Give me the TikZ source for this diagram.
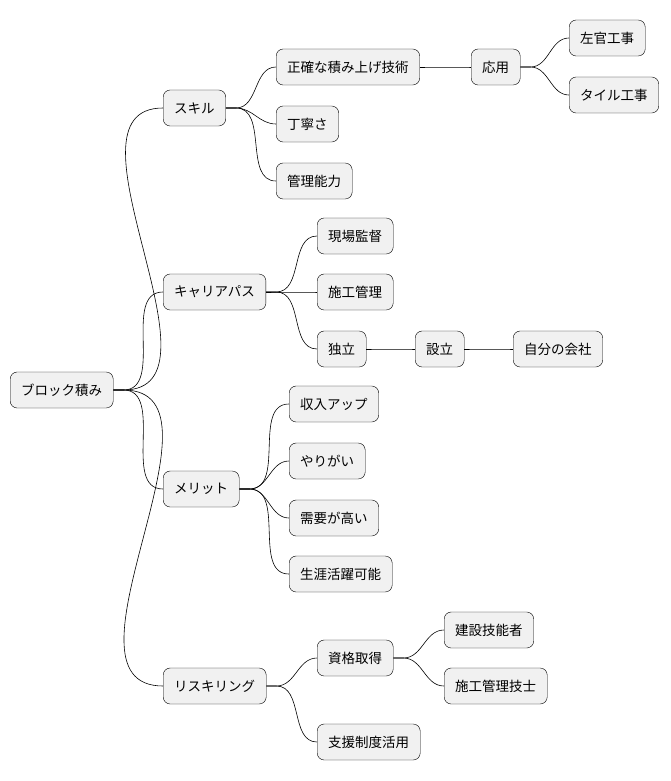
\documentclass[tikz,border=0pt]{standalone}
\usepackage{fontspec}
\setmainfont{Noto Sans CJK JP}
\usetikzlibrary{positioning}
\definecolor{boxfill}{HTML}{F1F1F1}
\tikzset{
  idea/.style={draw=black, fill=boxfill, rounded corners=7pt, anchor=west,
    minimum height=36pt, inner xsep=11pt, font=\fontsize{13.5}{16}\selectfont},
  link/.style={draw=black, line width=0.6pt}
}
\begin{document}
\begin{tikzpicture}[x=1pt, y=-1pt]
\useasboundingbox (0,0) rectangle (670,781);
% root and first level
\node[idea] (root) at (10,390) {ブロック積み};
\node[idea] (skill) at (163,108) {スキル};
\node[idea] (career) at (163,292) {キャリアパス};
\node[idea] (merit) at (163,489) {メリット};
\node[idea] (reskill) at (163,686) {リスキリング};
% skill
\node[idea] (tech) at (276,67) {正確な積み上げ技術};
\node[idea] (apply) at (471,67) {応用};
\node[idea] (plaster) at (569,38) {左官工事};
\node[idea] (tile) at (569,95) {タイル工事};
\node[idea] (care) at (276,124) {丁寧さ};
\node[idea] (manage) at (276,181) {管理能力};
% career
\node[idea] (site) at (317,236) {現場監督};
\node[idea] (construct) at (317,292) {施工管理};
\node[idea] (indep) at (317,349) {独立};
\node[idea] (found) at (415,349) {設立};
\node[idea] (company) at (513,349) {自分の会社};
% merit
\node[idea] (income) at (289,404) {収入アップ};
\node[idea] (worth) at (289,461) {やりがい};
\node[idea] (demand) at (289,518) {需要が高い};
\node[idea] (life) at (289,574) {生涯活躍可能};
% reskilling
\node[idea] (license) at (317,658) {資格取得};
\node[idea] (worker) at (444,630) {建設技能者};
\node[idea] (engineer) at (444,686) {施工管理技士};
\node[idea] (support) at (317,742) {支援制度活用};
% connectors
\foreach \p/\c in {root/skill, root/career, root/merit, root/reskill,
    skill/tech, tech/apply, apply/plaster, apply/tile, skill/care, skill/manage,
    career/site, career/construct, career/indep, indep/found, found/company,
    merit/income, merit/worth, merit/demand, merit/life,
    reskill/license, license/worker, license/engineer, reskill/support}
  \draw[link] (\p.east) -- ++(10,0) to[out=0, in=180] (\c.west);
\end{tikzpicture}
\end{document}
